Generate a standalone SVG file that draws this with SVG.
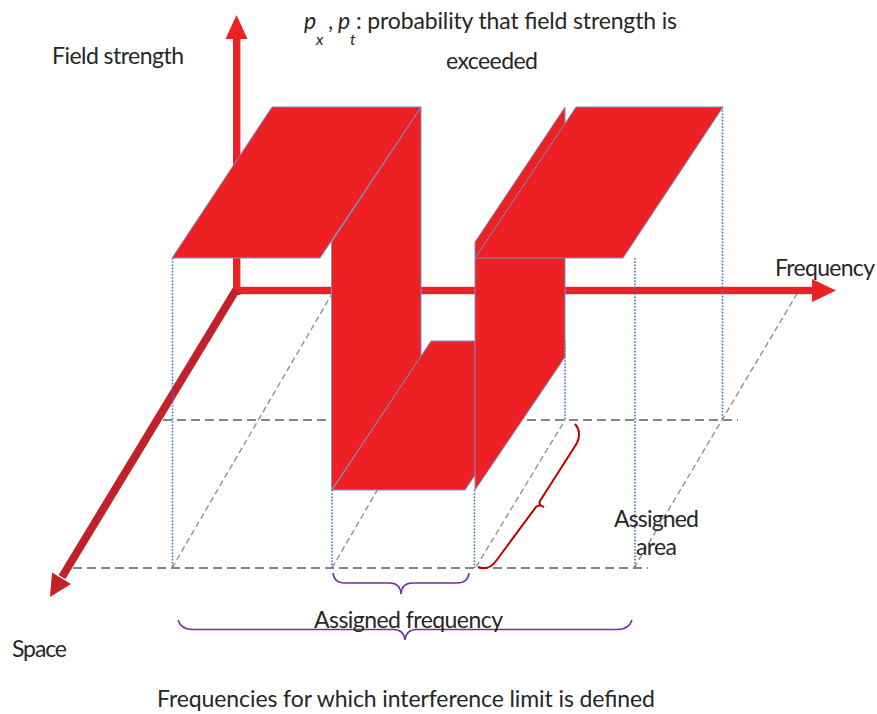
<svg xmlns="http://www.w3.org/2000/svg" width="877" height="714" viewBox="0 0 877 714">
<style>
  .lbl { font-family: Lato, "Open Sans", "Liberation Sans", sans-serif; font-size: 23px; fill: #262626; }
  .it { font-style: italic; }
  .sub { font-size: 16px; font-style: italic; }
  .dashH { stroke: #858585; stroke-width: 2.2; stroke-dasharray: 9 5; fill: none; }
  .dashD { stroke: #8a8a8a; stroke-width: 1.3; stroke-dasharray: 6 3.5; fill: none; }
  .dot { stroke: #4472C4; stroke-width: 1.6; stroke-dasharray: 1.6 1.6; fill: none; }
  .axis { fill: #ED2024; }
  .axisS { fill: #C1212A; }
  .face { fill: #ED2024; stroke: #7393C8; stroke-width: 1; stroke-linejoin: round; }
  .braceP { stroke: #7030A0; stroke-width: 1.6; fill: none; }
  .braceR { stroke: #C00000; stroke-width: 2; fill: none; }
</style>
<rect width="877" height="714" fill="#ffffff"/>

<g id="connectors">
  <!-- grid: dashed ground lines -->
  <line class="dashH" x1="163" y1="420" x2="738" y2="420"/>
  <line class="dashH" x1="73" y1="568" x2="648" y2="568"/>
  <line class="dashD" x1="172" y1="568" x2="333" y2="292"/>
  <line class="dashD" x1="332" y1="568" x2="418" y2="420"/>
  <line class="dashD" x1="476" y1="567" x2="565" y2="420"/>
  <line class="dashD" x1="634" y1="568" x2="798" y2="292"/>

  <!-- axes -->
  <g id="axis-field">
    <rect class="axis" x="233" y="37" width="7.4" height="258"/>
    <polygon class="axis" points="236.5,15 247.5,39 225.5,39"/>
  </g>
  <g id="axis-frequency">
    <rect class="axis" x="233" y="286.8" width="581" height="7.4"/>
    <polygon class="axis" points="836,290.5 812,279 812,302"/>
  </g>
  <g id="axis-space">
    <line x1="236" y1="290" x2="62" y2="577" stroke="#C1212A" stroke-width="8"/>
    <polygon class="axisS" points="50,597 52,572.5 71,584"/>
  </g>

  <!-- dotted projection lines -->
  <line class="dot" x1="172.5" y1="258" x2="172.5" y2="568"/>
  <line class="dot" x1="332" y1="490" x2="332" y2="568"/>
  <line class="dot" x1="474.5" y1="490" x2="474.5" y2="568"/>
  <line class="dot" x1="565" y1="341" x2="565" y2="420"/>
  <line class="dot" x1="635" y1="258" x2="635" y2="568"/>
  <line class="dot" x1="722.5" y1="107" x2="722.5" y2="420"/>
</g>

<g id="left-panel"><polygon class="face" points="331.5,242 421,107 421,357 331.5,490"/></g>
<g id="left-plateau"><polygon class="face" points="172,258 320,258 421,107 272,107"/></g>
<g id="bottom-plateau"><polygon class="face" points="332,490 465,490 565,341 431,341"/></g>
<g id="right-panel"><polygon class="face" points="475,242 565,107 565,357 475,490"/></g>
<g id="right-plateau"><polygon class="face" points="475,258 623,258 723,107 576,107"/></g>

<g id="brace-area">
  <path class="braceR" d="M 478 567 Q 489 571 496 561 L 536 507 Q 539 504 544 507 Q 538 505 540 501 L 577 443 Q 582 432 575 424"/>
</g>
<g id="brace-assigned-frequency">
  <path class="braceP" d="M 333 573 Q 334 583 345 583 L 390 583 Q 400 583 401 594 Q 402 583 412 583 L 457 583 Q 468 583 469 573"/>
</g>
<g id="brace-frequencies">
  <path class="braceP" d="M 178 620 Q 181 629.5 193 629.5 L 393 629.5 Q 404 629.5 405 640 Q 406 629.5 417 629.5 L 617 629.5 Q 629 629.5 632 620"/>
</g>

<g id="label-title">
  <text class="lbl it" x="304" y="29">p</text>
  <text class="lbl sub" x="316" y="45">x</text>
  <text class="lbl" x="328" y="29">,</text>
  <text class="lbl it" x="338" y="29">p</text>
  <text class="lbl sub" x="350" y="45">t</text>
  <text class="lbl" x="356" y="29" textLength="321">: probability that field strength is</text>
  <text class="lbl" x="446" y="69" textLength="92">exceeded</text>
</g>
<g id="label-field"><text class="lbl" x="52" y="64" textLength="132">Field strength</text></g>
<g id="label-frequency"><text class="lbl" x="775" y="276" textLength="100">Frequency</text></g>
<g id="label-space"><text class="lbl" x="12" y="657" textLength="55">Space</text></g>
<g id="label-area">
  <text class="lbl" x="614" y="527" textLength="85">Assigned</text>
  <text class="lbl" x="636" y="555" textLength="41">area</text>
</g>
<g id="label-assigned-frequency"><text class="lbl" x="314" y="628" textLength="189">Assigned frequency</text></g>
<g id="label-frequencies"><text class="lbl" x="157" y="707" textLength="498">Frequencies for which interference limit is defined</text></g>
</svg>
